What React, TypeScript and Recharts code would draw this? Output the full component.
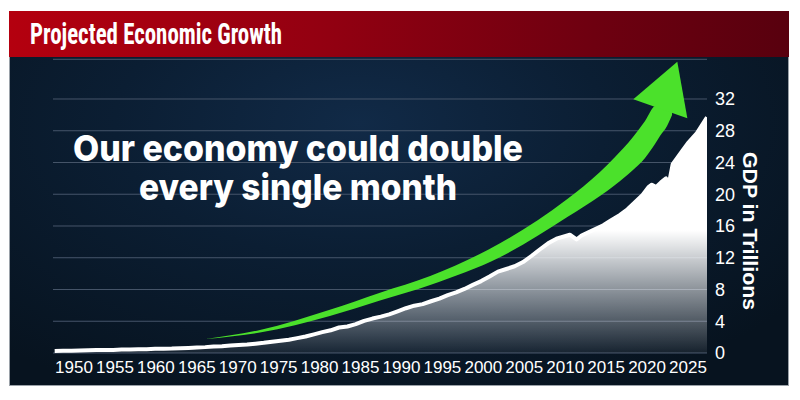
import React from 'react';
import { ComposedChart, Area, XAxis, YAxis, CartesianGrid } from 'recharts';

// GDP (trillions USD) by year
const gdpYears = [
  1947, 1948, 1949, 1950, 1951, 1952, 1953, 1954, 1955, 1956, 1957, 1958, 1959,
  1960, 1961, 1962, 1963, 1964, 1965, 1966, 1967, 1968, 1969, 1970, 1971, 1972,
  1973, 1974, 1975, 1976, 1977, 1978, 1979, 1980, 1981, 1982, 1983, 1984, 1985,
  1986, 1987, 1988, 1989, 1990, 1991, 1992, 1993, 1994, 1995, 1996, 1997, 1998,
  1999, 2000, 2001, 2002, 2003, 2004, 2005, 2006, 2007, 2008.6, 2009.4, 2010,
  2011, 2012.6, 2013.5, 2014.6, 2015.5, 2016.2, 2017.3, 2018.0, 2018.4, 2018.9,
  2019.5, 2020.1, 2020.4, 2020.9, 2022.0, 2022.7, 2023.8, 2025.0,
];
const gdpValues = [
  0.25, 0.27, 0.27, 0.3, 0.35, 0.37, 0.39, 0.39, 0.43, 0.45, 0.47, 0.48, 0.52,
  0.54, 0.56, 0.61, 0.64, 0.69, 0.74, 0.82, 0.86, 0.94, 1.02, 1.07, 1.17, 1.28,
  1.43, 1.55, 1.68, 1.87, 2.08, 2.35, 2.63, 2.86, 3.21, 3.34, 3.63, 4.04, 4.34,
  4.58, 4.86, 5.24, 5.64, 5.96, 6.16, 6.52, 6.86, 7.29, 7.64, 8.07, 8.58, 9.06,
  9.63, 10.25, 10.58, 10.93, 11.46, 12.22, 13.04, 13.82, 14.4, 14.9, 14.3, 14.8,
  15.3, 16.1, 16.7, 17.4, 18.1, 18.8, 19.9, 20.9, 21.2, 20.9,
  21.5, 22.0, 21.1, 23.8, 25.4, 26.4, 27.7, 29.7,
];

// Green arrow shaft, in (year, value) units
const shaftYears = [1965.0, 1971.55, 1979.9, 1985.9, 1991.9, 2000.3, 2008.3, 2012.2, 2014.0, 2016.15, 2017.59, 2018.78, 2019.38, 2020.22, 2020.82];
const shaftLow = [1.76, 2.58, 4.66, 6.61, 8.57, 12.09, 17.13, 19.78, 21.17, 23.06, 24.57, 26.33, 27.34, 28.6, 29.98];
const shaftHigh = [1.76, 2.9, 5.45, 7.6, 9.7, 13.86, 19.4, 22.8, 24.69, 27.21, 29.23, 31.12, 31.24, 30.87, 30.36];

// Green arrow head
const headYears = [2016.19, 2021.45, 2022.65];
const headLow = [31.96, 30.01, 29.57];
const headHigh = [31.96, 36.7, 29.57];

const xTicks = [1950, 1955, 1960, 1965, 1970, 1975, 1980, 1985, 1990, 1995, 2000, 2005, 2010, 2015, 2020, 2025];
const yTicks = [0, 4, 8, 12, 16, 20, 24, 28, 32];

const title = 'Projected Economic Growth';
const headline1 = 'Our economy could double';
const headline2 = 'every single month';
const axisTitle = 'GDP in Trillions';

const gdpData = gdpYears.map((year, i) => ({ year, gdp: gdpValues[i] }));
const shaftData = shaftYears.map((year, i) => ({ year, band: [shaftLow[i], shaftHigh[i]] }));
const headData = headYears.map((year, i) => ({ year, band: [headLow[i], headHigh[i]] }));

const GREEN = '#4be12b';
const sans = "'Liberation Sans', Arial, Helvetica, sans-serif";

export default function App() {
  return (
    <div style={{ position: 'relative', width: 784, height: 384 }}>
      {/* frame */}
      <div
        style={{
          position: 'absolute',
          left: 1,
          top: 3,
          width: 780,
          height: 375,
          boxSizing: 'border-box',
          border: '1px solid #9aa1a8',
          background:
            'radial-gradient(ellipse 70% 80% at 45% 30%, #112a47 0%, #0b1e33 45%, #07131f 100%)',
        }}
      />
      <div
        style={{
          position: 'absolute',
          left: 1,
          top: 3,
          width: 780,
          height: 46,
          background: 'linear-gradient(90deg, #b4000f 0%, #930011 40%, #6e0010 75%, #58000e 100%)',
        }}
      />
      <svg style={{ position: 'absolute', left: 0, top: 0 }} width={784} height={60}>
        <text
          x={22}
          y={36}
          fill="#ffffff"
          fontSize={30}
          fontWeight={700}
          fontFamily="'Liberation Sans Narrow', 'Roboto Condensed', Roboto, Arial, sans-serif"
          textLength={252}
          lengthAdjust="spacingAndGlyphs"
        >
          {title}
        </text>
      </svg>
      <div style={{ position: 'absolute', left: 0, top: 0 }}>
        <ComposedChart
          width={784}
          height={384}
          margin={{ top: 51.3, right: 25, bottom: 9, left: 45 }}
        >
          <defs>
            <linearGradient id="gdpFill" x1="0" y1="0" x2="0" y2="1">
              <stop offset="0%" stopColor="#ffffff" stopOpacity={1} />
              <stop offset="48%" stopColor="#ffffff" stopOpacity={1} />
              <stop offset="75%" stopColor="#ffffff" stopOpacity={0.5} />
              <stop offset="100%" stopColor="#ffffff" stopOpacity={0.06} />
            </linearGradient>
          </defs>
          <CartesianGrid
            xAxisId="data"
            vertical={false}
            stroke="#46556a"
            strokeWidth={1}
          />
          <XAxis
            xAxisId="lab"
            type="number"
            dataKey="year"
            domain={[1947.435, 2027.32]}
            ticks={xTicks}
            interval={0}
            allowDataOverflow
            axisLine={false}
            tickLine={false}
            height={30}
            tick={{ fill: '#ffffff', fontSize: 17, fontFamily: sans }}
          />
          <XAxis
            xAxisId="data"
            type="number"
            dataKey="year"
            domain={[1946.8, 2025]}
            allowDataOverflow
            height={0}
            hide
          />
          <YAxis
            orientation="right"
            type="number"
            domain={[0, 37]}
            ticks={yTicks}
            interval={0}
            axisLine={false}
            tickLine={false}
            width={60}
            tick={{ fill: '#ffffff', fontSize: 18, fontFamily: sans, textAnchor: 'start' }}
          />
          <Area
            xAxisId="data"
            data={gdpData}
            dataKey="gdp"
            type="linear"
            stroke="#ffffff"
            strokeWidth={4}
            strokeLinejoin="round"
            fill="url(#gdpFill)"
            fillOpacity={1}
            dot={false}
            activeDot={false}
            isAnimationActive={false}
          />
          <Area
            xAxisId="data"
            data={shaftData}
            dataKey="band"
            type="monotone"
            stroke="none"
            fill={GREEN}
            fillOpacity={1}
            dot={false}
            activeDot={false}
            isAnimationActive={false}
          />
          <Area
            xAxisId="data"
            data={headData}
            dataKey="band"
            type="linear"
            stroke="none"
            fill={GREEN}
            fillOpacity={1}
            dot={false}
            activeDot={false}
            isAnimationActive={false}
          />
        </ComposedChart>
      </div>
      <svg style={{ position: 'absolute', left: 0, top: 0, pointerEvents: 'none' }} width={784} height={384}>
        <text
          x={290}
          y={153}
          textAnchor="middle"
          fill="#ffffff"
          fontSize={36}
          fontWeight={800}
          fontFamily="Inter, 'Open Sans', sans-serif"
          textLength={450}
          lengthAdjust="spacingAndGlyphs"
        >
          {headline1}
        </text>
        <text
          x={290}
          y={192}
          textAnchor="middle"
          fill="#ffffff"
          fontSize={36}
          fontWeight={800}
          fontFamily="Inter, 'Open Sans', sans-serif"
          textLength={318}
          lengthAdjust="spacingAndGlyphs"
        >
          {headline2}
        </text>
        <text
          x={742}
          y={223}
          transform="rotate(90 742 223)"
          textAnchor="middle"
          dominantBaseline="central"
          fill="#ffffff"
          fontSize={21}
          fontWeight={700}
          fontFamily={sans}
          textLength={158}
          lengthAdjust="spacingAndGlyphs"
        >
          {axisTitle}
        </text>
      </svg>
    </div>
  );
}
